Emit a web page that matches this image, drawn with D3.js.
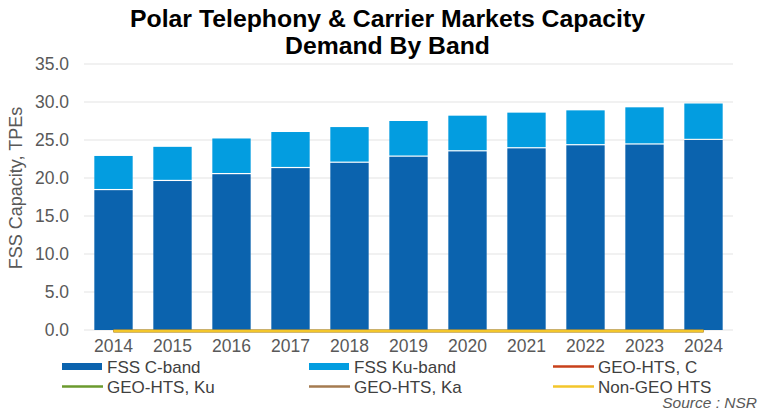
<!DOCTYPE html>
<html>
<head>
<meta charset="utf-8">
<script src="https://cdn.jsdelivr.net/npm/d3@7"></script>
<style>
  html, body { margin: 0; padding: 0; background: #fff; }
  text { font-family: Arial, "Liberation Sans", sans-serif; }
</style>
</head>
<body>
<svg id="chart" width="769" height="411"></svg>
<script>
// ---- data ----
const years = ["2014","2015","2016","2017","2018","2019","2020","2021","2022","2023","2024"];
const fssC  = [18.4, 19.6, 20.5, 21.3, 22.0, 22.8, 23.5, 23.9, 24.3, 24.4, 25.0];
const fssKu = [4.5, 4.5, 4.7, 4.75, 4.7, 4.7, 4.7, 4.7, 4.6, 4.9, 4.8];
const geoHtsC  = [0,0,0,0,0,0,0,0,0,0,0];
const geoHtsKu = [0,0,0,0,0,0,0,0,0,0,0];
const geoHtsKa = [0,0,0,0,0,0,0,0,0,0,0];
const nonGeoHts = [0,0,0,0,0,0,0,0,0,0,0];
const yTicks = [0, 5, 10, 15, 20, 25, 30, 35];
const titleLines = ["Polar Telephony & Carrier Markets Capacity", "Demand By Band"];
const yTitle = "FSS Capacity, TPEs";
const sourceText = "Source : NSR";

const colors = {
  c: "#0B63AE", ku: "#039DE0",
  geoC: "#C8401A", geoKu: "#6B9A2E", geoKa: "#A57B50", nonGeo: "#F3C62B"
};

const svg = d3.select("#chart");

const x = d3.scaleBand().domain(years).range([84, 733]).paddingInner(0.35).paddingOuter(0.175);
const y = d3.scaleLinear().domain([0, 35]).range([330, 64]);

// gridlines
svg.append("g").selectAll("line").data(yTicks).join("line")
  .attr("x1", 84).attr("x2", 733)
  .attr("y1", d => y(d)).attr("y2", d => y(d))
  .attr("stroke", "#E3E3E3").attr("stroke-width", 1);

// y axis labels
const yAxis = d3.axisLeft(y).tickValues(yTicks).tickFormat(d3.format(".1f")).tickSize(0).tickPadding(0);
const gy = svg.append("g").attr("transform", "translate(69,0)").call(yAxis);
gy.select(".domain").remove();
gy.selectAll("text").attr("font-size", "17.5px").attr("fill", "#595959")
  .attr("font-family", "Arial, 'Liberation Sans', sans-serif");

// x axis labels
const xAxis = d3.axisBottom(x).tickSize(0).tickPadding(0);
const gx = svg.append("g").attr("transform", "translate(0,340)").call(xAxis);
gx.select(".domain").remove();
gx.selectAll("text").attr("font-size", "17.5px").attr("fill", "#595959")
  .attr("font-family", "Arial, 'Liberation Sans', sans-serif");

// bars
const rows = years.map((yr, i) => ({ yr, c: fssC[i], ku: fssKu[i] }));
svg.append("g").selectAll("rect").data(rows).join("rect")
  .attr("x", d => x(d.yr)).attr("width", x.bandwidth())
  .attr("y", d => y(d.c)).attr("height", d => y(0) - y(d.c))
  .attr("fill", colors.c);
svg.append("g").selectAll("rect").data(rows).join("rect")
  .attr("x", d => x(d.yr)).attr("width", x.bandwidth())
  .attr("y", d => y(d.c + d.ku)).attr("height", d => y(d.c) - y(d.c + d.ku) - 1.2)
  .attr("fill", colors.ku);

// lines (all zero)
const lineSeries = [
  { vals: geoHtsC, color: colors.geoC },
  { vals: geoHtsKu, color: colors.geoKu },
  { vals: geoHtsKa, color: colors.geoKa },
  { vals: nonGeoHts, color: colors.nonGeo }
];
const lineGen = d3.line().x((d, i) => x(years[i]) + x.bandwidth() / 2).y(d => y(d) + 1);
lineSeries.forEach(s => {
  svg.append("path").datum(s.vals).attr("d", lineGen)
    .attr("fill", "none").attr("stroke", s.color).attr("stroke-width", 2.5);
});

// title
const titleLen = [515, 205];
svg.append("g").selectAll("text").data(titleLines).join("text")
  .attr("x", 387.5).attr("y", (d, i) => 27 + i * 26.5)
  .attr("text-anchor", "middle").attr("font-size", "23px").attr("font-weight", "bold")
  .attr("textLength", (d, i) => titleLen[i]).attr("lengthAdjust", "spacingAndGlyphs")
  .attr("fill", "#000").text(d => d);

// y title
svg.append("text")
  .attr("transform", "translate(22,188) rotate(-90)")
  .attr("text-anchor", "middle").attr("font-size", "18px").attr("fill", "#595959")
  .text(yTitle);

// legend
const legendItems = [
  { name: "FSS C-band", type: "rect", color: colors.c, col: 0, row: 0 },
  { name: "FSS Ku-band", type: "rect", color: colors.ku, col: 1, row: 0 },
  { name: "GEO-HTS, C", type: "line", color: colors.geoC, col: 2, row: 0 },
  { name: "GEO-HTS, Ku", type: "line", color: colors.geoKu, col: 0, row: 1 },
  { name: "GEO-HTS, Ka", type: "line", color: colors.geoKa, col: 1, row: 1 },
  { name: "Non-GEO HTS", type: "line", color: colors.nonGeo, col: 2, row: 1 }
];
const colX = [62, 309, 553];
const rowY = [366.5, 386.5];
const lg = svg.append("g").selectAll("g").data(legendItems).join("g")
  .attr("transform", d => `translate(${colX[d.col]},${rowY[d.row]})`);
lg.filter(d => d.type === "rect").append("rect")
  .attr("x", 0).attr("y", -3.5).attr("width", 40).attr("height", 7).attr("fill", d => d.color);
lg.filter(d => d.type === "line").append("line")
  .attr("x1", 0).attr("x2", 41).attr("y1", 0).attr("y2", 0)
  .attr("stroke", d => d.color).attr("stroke-width", 2.5);
lg.append("text").attr("x", 45).attr("y", 6.2)
  .attr("font-size", "17px").attr("fill", "#404040").text(d => d.name);

// source
svg.append("text").attr("x", 757).attr("y", 407.5).attr("text-anchor", "end")
  .attr("font-size", "15.5px").attr("font-style", "italic").attr("fill", "#595959")
  .text(sourceText);
</script>
</body>
</html>
